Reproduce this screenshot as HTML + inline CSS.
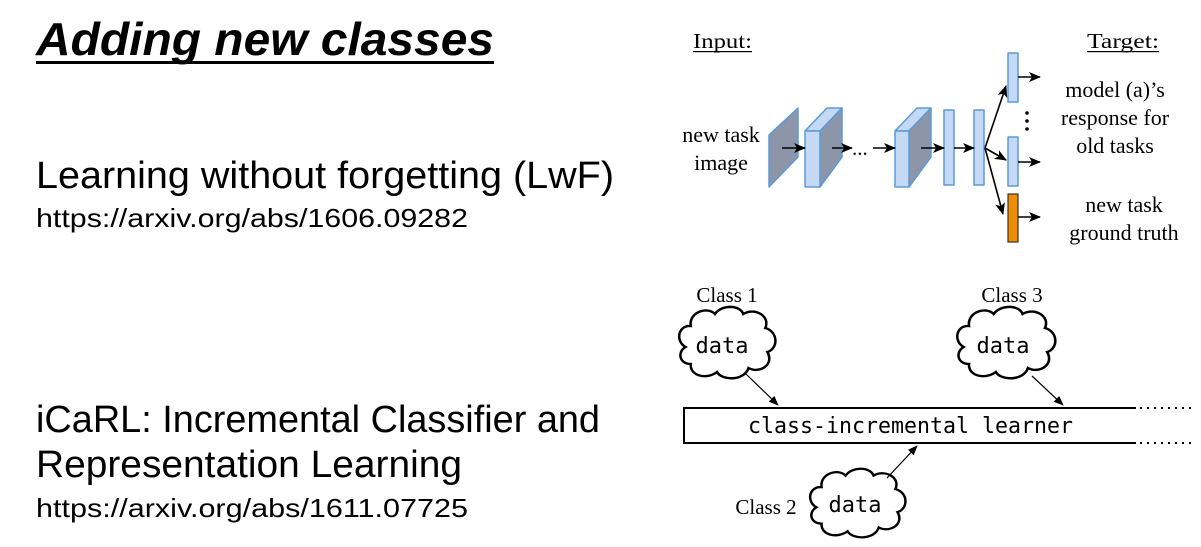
<!DOCTYPE html>
<html><head><meta charset="utf-8"><style>
html,body{margin:0;padding:0;background:#fff;}
svg{display:block;}
.s{font-family:"Liberation Sans",sans-serif;fill:#000;}
.r{font-family:"Liberation Serif",serif;fill:#000;font-size:21px;}
.t{font-family:"Liberation Serif",serif;fill:#000;font-size:22px;}
.m{font-family:"DejaVu Sans Mono","Liberation Mono",monospace;fill:#000;font-size:22px;}
</style></head><body>
<svg width="1201" height="547" viewBox="0 0 1201 547" xmlns="http://www.w3.org/2000/svg">
<defs>
<marker id="ah" markerWidth="10" markerHeight="8" refX="9" refY="4" orient="auto" markerUnits="userSpaceOnUse"><path d="M0,0 L10,4 L0,8 Z" fill="#000"/></marker>
<marker id="ah2" markerWidth="12" markerHeight="10" refX="11" refY="5" orient="auto" markerUnits="userSpaceOnUse"><path d="M0,0 L12,5 L0,10 L3,5 Z" fill="#000"/></marker>
<path id="cloud" d="M15,60 C4,60 2,48 10,43 C0,37 3,21 15,22 C13,8 31,2 38,10 C45,0 62,1 65,10 C76,3 91,12 86,24 C99,28 98,45 88,48 C95,61 80,70 70,64 C66,77 45,77 40,68 C30,76 14,72 15,60 Z" fill="#fff" stroke="#000" stroke-width="2.4"/>
</defs>

<text class="s" x="36" y="55" font-size="46" font-weight="bold" font-style="italic" textLength="458" lengthAdjust="spacingAndGlyphs">Adding new classes</text>
<rect x="36" y="61" width="458" height="3" fill="#000"/>
<text class="s" x="36" y="188" font-size="38" textLength="578" lengthAdjust="spacingAndGlyphs">Learning without forgetting (LwF)</text>
<text class="s" x="36" y="227" font-size="26" textLength="432" lengthAdjust="spacingAndGlyphs">https://arxiv.org/abs/1606.09282</text>
<text class="s" x="36" y="432" font-size="38" textLength="564" lengthAdjust="spacingAndGlyphs">iCaRL: Incremental Classifier and</text>
<text class="s" x="36" y="477" font-size="38" textLength="426" lengthAdjust="spacingAndGlyphs">Representation Learning</text>
<text class="s" x="36" y="517" font-size="26" textLength="432" lengthAdjust="spacingAndGlyphs">https://arxiv.org/abs/1611.07725</text>

<text class="r" x="693" y="48" textLength="59" lengthAdjust="spacingAndGlyphs">Input:</text>
<rect x="693" y="51" width="59" height="1.2" fill="#000"/>
<text class="r" x="1087" y="48" textLength="72" lengthAdjust="spacingAndGlyphs">Target:</text>
<rect x="1087" y="51" width="72" height="1.2" fill="#000"/>
<text class="t" x="721" y="142" text-anchor="middle">new task</text>
<text class="t" x="721" y="170" text-anchor="middle">image</text>

<g stroke="#5b9bd5" stroke-width="1.5" stroke-linejoin="round">
<polygon points="769,135 798,108 798,157 769,187" fill="#8d96a8"/>
<polygon points="805,131 827,108 842,108 820,131" fill="#c5d9f4"/>
<polygon points="820,131 842,108 842,157 820,187" fill="#8d96a8"/>
<rect x="805" y="131" width="15" height="56" fill="#c5d9f4"/>
<polygon points="895,131 917,108 931,108 909,131" fill="#c5d9f4"/>
<polygon points="909,131 931,108 931,157 909,187" fill="#8d96a8"/>
<rect x="895" y="131" width="14" height="56" fill="#c5d9f4"/>
<rect x="944" y="110" width="10" height="75" fill="#c5d9f4"/>
<rect x="974" y="110" width="10" height="75" fill="#c5d9f4"/>
<rect x="1008" y="53" width="10" height="49" fill="#c5d9f4"/>
<rect x="1008" y="137" width="10" height="49" fill="#c5d9f4"/>
</g>
<rect x="1008" y="194" width="10" height="48" fill="#f08c00" stroke="#333" stroke-width="1.2"/>

<g stroke="#000" stroke-width="1.6" fill="none" marker-end="url(#ah2)">
<line x1="782" y1="148" x2="805" y2="148"/>
<line x1="832" y1="148" x2="852" y2="148"/>
<line x1="873" y1="148" x2="895" y2="148"/>
<line x1="921" y1="148" x2="944" y2="148"/>
<line x1="954" y1="148" x2="974" y2="148"/>
<line x1="985" y1="148" x2="1006" y2="86"/>
<line x1="985" y1="148" x2="1006" y2="160"/>
<line x1="985" y1="148" x2="1003" y2="214"/>
<line x1="1018" y1="77" x2="1040" y2="77"/>
<line x1="1018" y1="162" x2="1040" y2="162"/>
<line x1="1018" y1="217" x2="1040" y2="217"/>
</g>
<text class="r" x="852" y="155">...</text>
<circle cx="1027" cy="113" r="1.8"/><circle cx="1027" cy="121" r="1.8"/><circle cx="1027" cy="129" r="1.8"/>
<text class="t" x="1115" y="97" text-anchor="middle">model (a)’s</text>
<text class="t" x="1115" y="125" text-anchor="middle">response for</text>
<text class="t" x="1115" y="153" text-anchor="middle">old tasks</text>
<text class="t" x="1124" y="212" text-anchor="middle">new task</text>
<text class="t" x="1124" y="240" text-anchor="middle">ground truth</text>

<text class="r" x="727" y="302" text-anchor="middle" font-size="20">Class 1</text>
<text class="r" x="1012" y="302" text-anchor="middle" font-size="20">Class 3</text>
<use href="#cloud" transform="translate(675,304) scale(1.05,1.0)"/>
<use href="#cloud" transform="translate(953,304) scale(1.07,1.0)"/>
<use href="#cloud" transform="translate(806,466) scale(1.04,0.96)"/>
<text class="m" x="722" y="353" text-anchor="middle">data</text>
<text class="m" x="1003" y="353" text-anchor="middle">data</text>
<text class="m" x="855" y="512" text-anchor="middle">data</text>
<text class="r" x="766" y="514" text-anchor="middle" font-size="20">Class 2</text>

<path d="M1136,408 H684 V443 H1136" fill="none" stroke="#000" stroke-width="2"/>
<line x1="1140" y1="408" x2="1195" y2="408" stroke="#000" stroke-width="2" stroke-dasharray="2,5"/>
<line x1="1140" y1="443" x2="1195" y2="443" stroke="#000" stroke-width="2" stroke-dasharray="2,5"/>
<text class="m" x="748" y="433" textLength="325" lengthAdjust="spacingAndGlyphs">class-incremental learner</text>

<g stroke="#000" stroke-width="1.2" marker-end="url(#ah)">
<line x1="746" y1="374" x2="778" y2="405"/>
<line x1="1032" y1="376" x2="1063" y2="405"/>
<line x1="887" y1="478" x2="917" y2="446"/>
</g>
</svg>
</body></html>
